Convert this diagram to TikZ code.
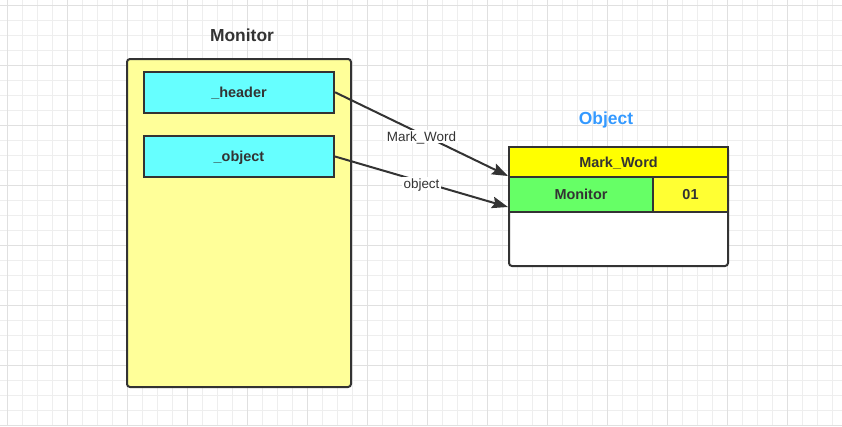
\documentclass[tikz,border=0pt]{standalone}
\usepackage{fontspec}
\setmainfont{Liberation Sans}
\usetikzlibrary{arrows.meta,calc}
\definecolor{ink}{HTML}{333333}
\definecolor{paleyellow}{HTML}{FFFF99}
\definecolor{fieldcyan}{HTML}{66FFFF}
\definecolor{markyellow}{HTML}{FFFF00}
\definecolor{lockgreen}{HTML}{66FF66}
\definecolor{flagyellow}{HTML}{FFFF33}
\definecolor{titleblue}{HTML}{3399FF}
\definecolor{gridminor}{HTML}{EEEEEE}
\definecolor{gridmajor}{HTML}{E0E0E0}
\begin{document}
\begin{tikzpicture}[x=1bp,y=-1bp]
\tikzstyle{every node}+=[inner sep=0pt,text=ink]
\tikzstyle{boxtext}=[font=\fontsize{14.5}{17}\selectfont\bfseries,text depth=0pt]
\tikzstyle{title}=[font=\fontsize{17.5}{20}\selectfont\bfseries]
\tikzstyle{field}=[boxtext,draw=ink,line width=2bp,fill=fieldcyan,minimum width=190bp,minimum height=40.5bp]
\tikzstyle{cell}=[boxtext,draw=ink,line width=2bp]
\tikzstyle{link}=[draw=ink,line width=2bp,-{Stealth[length=16bp,width=11.5bp,inset=2.5bp]}]
\tikzstyle{linklabel}=[fill=white,inner sep=1.5bp,text depth=0pt,yshift=-2bp,font=\fontsize{13.5}{16}\selectfont]
\useasboundingbox (0,0) rectangle (842,426);
\fill[white] (0,0) rectangle (842,426);
\foreach \x in {7,22,...,832} \draw[gridminor,line width=1bp] (\x,0) -- (\x,426);
\foreach \y in {5,20,...,425} \draw[gridminor,line width=1bp] (0,\y) -- (842,\y);
\foreach \x in {7,67,...,787} \draw[gridmajor,line width=1bp] (\x,0) -- (\x,426);
\foreach \y in {5,65,...,425} \draw[gridmajor,line width=1bp] (0,\y) -- (842,\y);
\node[title] (monitortitle) at (242,35) {Monitor};
\node[draw=ink,line width=2bp,rounded corners=3bp,fill=paleyellow,minimum width=224bp,minimum height=328bp] (monitor) at (239,223) {};
\node[field] (header) at (239,92.25) {\_header};
\node[field] (objfield) at (239,156.5) {\_object};
\node[title,text=titleblue] (objecttitle) at (606,120) {Object};
\node[draw=ink,line width=2bp,rounded corners=3bp,fill=white,minimum width=219bp,minimum height=119bp] (object) at (618.5,206.5) {};
\node[cell,fill=markyellow,minimum width=219bp,minimum height=30bp] (markword) at (618.5,162) {Mark\_Word};
\node[cell,fill=lockgreen,minimum width=144bp,minimum height=35bp] (monitorcell) at (581,194.5) {Monitor};
\node[cell,fill=flagyellow,minimum width=75bp,minimum height=35bp] (flag) at (690.5,194.5) {01};
\draw[link] (header.east) -- (monitorcell.north west) node[linklabel,midway] (marklabel) {Mark\_Word};
\draw[link] (objfield.east) -- ($(monitorcell.south west)+(0,-6)$) node[linklabel,midway] (objlabel) {object};
\end{tikzpicture}
\end{document}
